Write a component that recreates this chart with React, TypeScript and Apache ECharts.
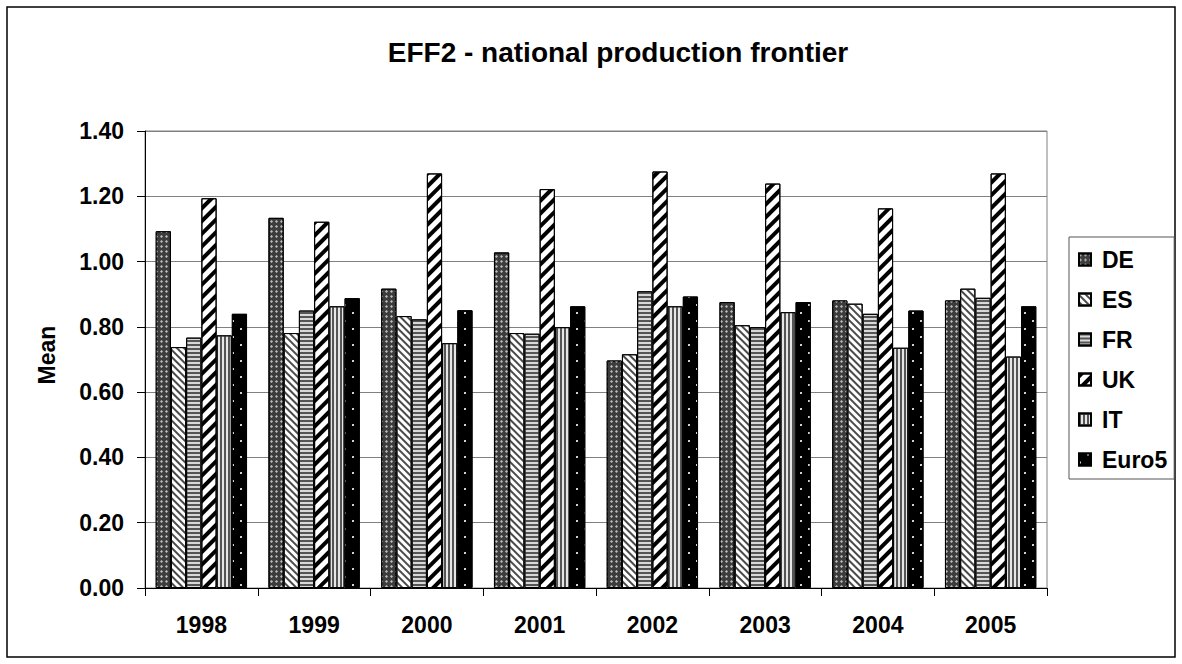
import React, { useEffect, useRef } from "react";
import * as echarts from "echarts";

const years = ["1998", "1999", "2000", "2001", "2002", "2003", "2004", "2005"];
const seriesNames = ["DE", "ES", "FR", "UK", "IT", "Euro5"];
const deValues = [1.093, 1.134, 0.917, 1.028, 0.697, 0.876, 0.881, 0.881];
const esValues = [0.738, 0.781, 0.833, 0.781, 0.716, 0.805, 0.871, 0.917];
const frValues = [0.767, 0.85, 0.823, 0.779, 0.909, 0.799, 0.84, 0.889];
const ukValues = [1.194, 1.122, 1.27, 1.222, 1.276, 1.239, 1.163, 1.27];
const itValues = [0.774, 0.863, 0.75, 0.799, 0.863, 0.845, 0.736, 0.709];
const euro5Values = [0.84, 0.888, 0.851, 0.863, 0.893, 0.876, 0.85, 0.863];
const yTicks = { min: 0, max: 1.4, interval: 0.2 };

const FONT = "'Liberation Sans', Arial, Helvetica, sans-serif";

export default function App() {
  const ref = useRef<HTMLDivElement>(null);
  useEffect(() => {
    if (!ref.current) return;
    const chart = echarts.init(ref.current, undefined, { renderer: "svg" });
    const values = [deValues, esValues, frValues, ukValues, itValues, euro5Values];
    const styles: any[] = [
      {
        color: "#3c3c3c",
        decal: {
          symbol: "diamond",
          symbolSize: 1,
          symbolKeepAspect: false,
          color: "#bcbcbc",
          dashArrayX: [3, 2],
          dashArrayY: [3, 2],
          rotation: 0,
        },
      },
      {
        color: "#ffffff",
        decal: {
          symbol: "rect",
          symbolSize: 1,
          symbolKeepAspect: false,
          color: "#4a4a4a",
          dashArrayX: [1, 0],
          dashArrayY: [1.3, 2.2],
          rotation: Math.PI / 4,
        },
      },
      {
        color: "#d8d8d8",
        decal: {
          symbol: "rect",
          symbolSize: 1,
          symbolKeepAspect: false,
          color: "#555555",
          dashArrayX: [1, 0],
          dashArrayY: [1.6, 1.8],
          rotation: 0,
        },
      },
      {
        color: "#ffffff",
        decal: {
          symbol: "rect",
          symbolSize: 1,
          symbolKeepAspect: false,
          color: "#000000",
          dashArrayX: [1, 0],
          dashArrayY: [3.6, 4.2],
          rotation: -Math.PI / 4,
        },
      },
      {
        color: "#e6e6e6",
        decal: {
          symbol: "rect",
          symbolSize: 1,
          symbolKeepAspect: false,
          color: "#555555",
          dashArrayX: [1.4, 1.6],
          dashArrayY: [1, 0],
          rotation: 0,
        },
      },
      {
        color: "#000000",
        decal: {
          symbol: "rect",
          symbolSize: 1,
          symbolKeepAspect: false,
          color: "#cfcfcf",
          dashArrayX: [
            [1.6, 13.4],
            [0, 7.5, 1.6, 5.9],
          ],
          dashArrayY: [1.6, 5.9],
          rotation: 0,
        },
      },
    ];

    const series = seriesNames.map((name, i) => ({
      name,
      type: "bar",
      data: values[i],
      barGap: "0%",
      barCategoryGap: "19%",
      itemStyle: {
        ...styles[i],
        borderColor: "#000",
        borderWidth: 1,
      },
      emphasis: { disabled: true },
    }));

    chart.setOption({
      animation: false,
      backgroundColor: "#ffffff",
      textStyle: { fontFamily: FONT },
      grid: {
        left: 145,
        right: 135,
        top: 131,
        bottom: 76,
        show: true,
        borderColor: "#808080",
        borderWidth: 1,
        containLabel: false,
      },
      legend: {
        orient: "vertical",
        left: 1069,
        top: 237,
        data: seriesNames,
        icon: "rect",
        itemWidth: 12,
        itemHeight: 12,
        itemGap: 17,
        padding: [11, 7, 8, 9],
        borderColor: "#555",
        borderWidth: 1,
        selectedMode: false,
        textStyle: {
          fontFamily: FONT,
          fontSize: 23,
          fontWeight: "bold",
          color: "#000",
          padding: [0, 0, 0, 6],
        },
      },
      xAxis: {
        type: "category",
        data: years,
        axisLine: { lineStyle: { color: "#000", width: 1 } },
        axisTick: { show: true, length: 8, inside: false, lineStyle: { color: "#000" } },
        axisLabel: {
          margin: 25,
          fontFamily: FONT,
          fontSize: 23,
          fontWeight: "bold",
          color: "#000",
        },
        splitLine: { show: false },
      },
      yAxis: {
        type: "value",
        min: yTicks.min,
        max: yTicks.max,
        interval: yTicks.interval,
        axisLine: { show: true, lineStyle: { color: "#000", width: 1 } },
        axisTick: { show: true, length: 8, lineStyle: { color: "#000" } },
        axisLabel: {
          margin: 21,
          fontFamily: FONT,
          fontSize: 23,
          fontWeight: "bold",
          color: "#000",
          formatter: (v: number) => v.toFixed(2),
        },
        splitLine: { show: true, lineStyle: { color: "#808080", width: 1 } },
      },
      graphic: [
        {
          type: "rect",
          shape: { x: 7, y: 7, width: 1168, height: 650 },
          style: { fill: "none", stroke: "#000", lineWidth: 1.5 },
          silent: true,
          z: -1,
        },
        {
          type: "text",
          x: 618,
          y: 52,
          style: {
            text: "EFF2 - national production frontier",
            fontFamily: FONT,
            fontSize: 28,
            fontWeight: "bold",
            fill: "#000",
            textAlign: "center",
            textVerticalAlign: "middle",
          },
        },
        {
          type: "text",
          x: 47,
          y: 355,
          rotation: Math.PI / 2,
          style: {
            text: "Mean",
            fontFamily: FONT,
            fontSize: 23,
            fontWeight: "bold",
            fill: "#000",
            textAlign: "center",
            textVerticalAlign: "middle",
          },
        },
      ],
      series,
    });
    return () => chart.dispose();
  }, []);
  return (
    <div
      ref={ref}
      style={{ position: "absolute", left: 0, top: 0, width: 1182, height: 664 }}
    />
  );
}
